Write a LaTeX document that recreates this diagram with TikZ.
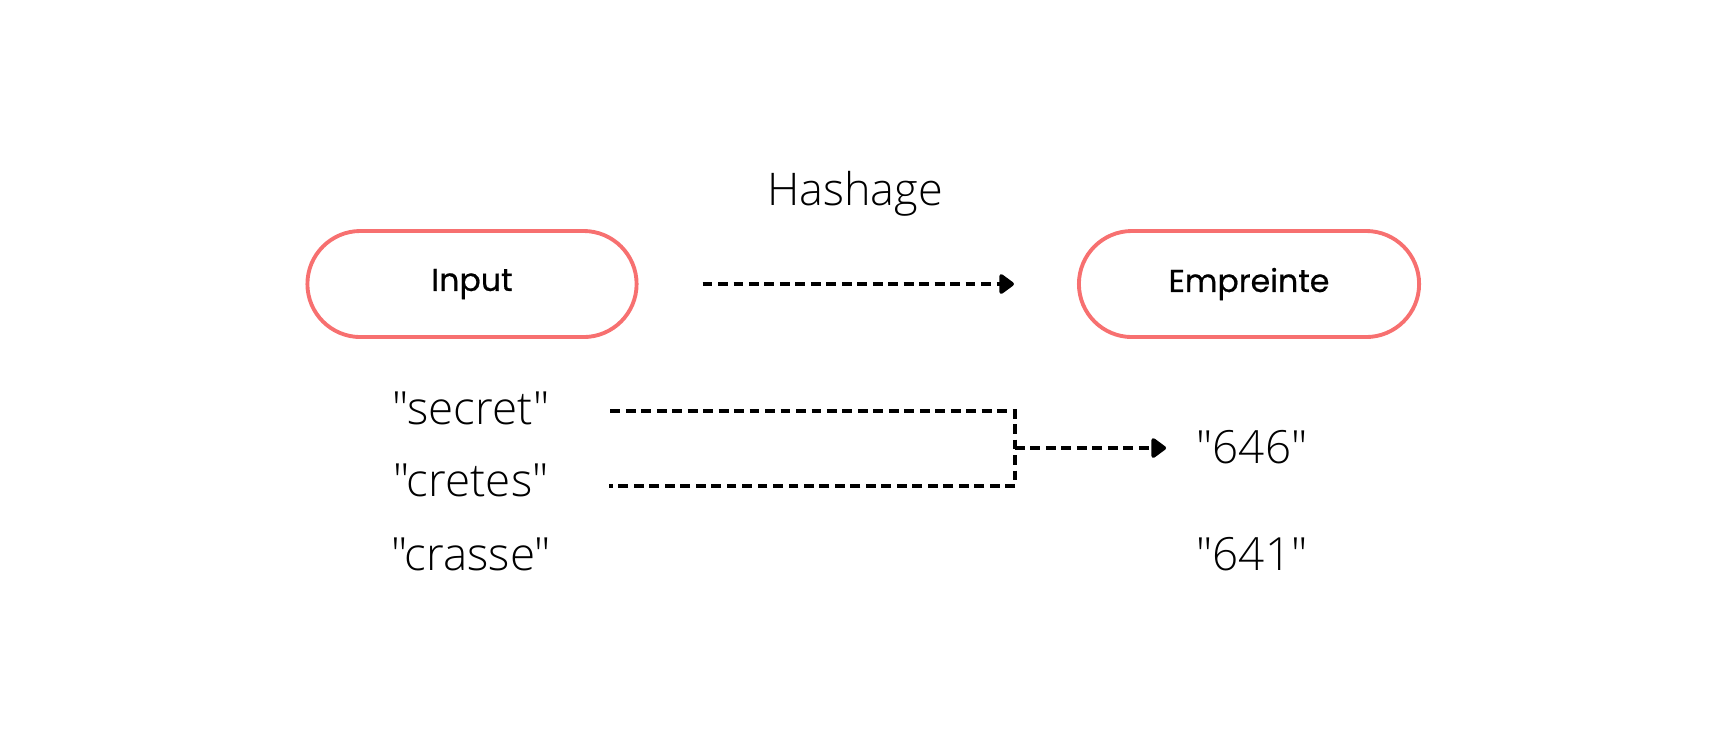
\documentclass[tikz,border=0pt]{standalone}
\usepackage{fontspec}
\setmainfont{Open Sans Light}[Ligatures=TeXOff]
\newfontfamily\boxfont{Poppins}[FakeBold=0.6]
\usetikzlibrary{arrows.meta}

\definecolor{boxred}{RGB}{247,112,112}

\tikzset{
    hashbox/.style={rectangle, rounded corners=0.53cm, draw=boxred, line width=1.1pt, minimum width=3.29cm, minimum height=1.06cm, font=\boxfont\fontsize{9}{11}\selectfont},
    word/.style={font=\fontsize{13}{15}\selectfont, inner sep=0pt},
    hashline/.style={line width=1.4pt, dash pattern=on 2.8pt off 1.6pt},
    hasharrow/.style={hashline, -{Triangle[length=4.6pt, width=6.4pt, round]}}
}

\begin{document}
\begin{tikzpicture}[x=0.01cm, y=-0.01cm]
    \useasboundingbox (0, 0) rectangle (1728, 744);

    \node[word, font=\fontsize{12.8}{15}\selectfont] (hash) at (855, 194) {Hashage};
    \node[hashbox] (input) at (472, 284) {Input};
    \node[hashbox, minimum width=3.4cm] (empreinte) at (1249, 284) {Empreinte};

    \node[word] (secret) at (471, 408) {"secret"};
    \node[word] (cretes) at (471, 480) {"cretes"};
    \node[word] (crasse) at (471, 554) {"crasse"};
    \node[word] (d646) at (1252, 447) {"646"};
    \node[word] (d641) at (1252, 554) {"641"};

    \coordinate (j1) at (1015, 411);
    \coordinate (j2) at (1015, 486);
    \coordinate (jm) at (1015, 448);

    \draw[hasharrow, shorten <=0.64cm, shorten >=0.63cm] (input) -- (empreinte);
    \draw[hashline, line join=miter] ([xshift=0.6cm]secret.east |- j1) -- (j1) -- (j2) -- ([xshift=0.6cm]cretes.east |- j2);
    \draw[hasharrow, shorten >=0.3cm] (jm) -- (d646.west |- jm);

\end{tikzpicture}
\end{document}
